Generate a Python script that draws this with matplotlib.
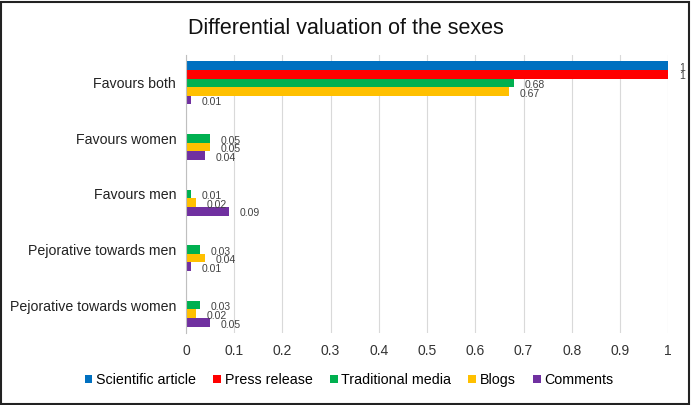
import matplotlib
matplotlib.use("Agg")
import matplotlib.pyplot as plt
from matplotlib.patches import Rectangle
import numpy as np

categories = ["Favours both", "Favours women", "Favours men",
              "Pejorative towards men", "Pejorative towards women"]
series_names = ["Scientific article", "Press release", "Traditional media", "Blogs", "Comments"]
scientific = [1, 0, 0, 0, 0]
press = [1, 0, 0, 0, 0]
traditional = [0.68, 0.05, 0.01, 0.03, 0.03]
blogs = [0.67, 0.05, 0.02, 0.04, 0.02]
comments = [0.01, 0.04, 0.09, 0.01, 0.05]
colors = ["#0070C0", "#FF0000", "#00B050", "#FFC000", "#7030A0"]
xticks = [0, 0.1, 0.2, 0.3, 0.4, 0.5, 0.6, 0.7, 0.8, 0.9, 1]
xticklabels = ["0", "0.1", "0.2", "0.3", "0.4", "0.5", "0.6", "0.7", "0.8", "0.9", "1"]

plt.rcParams['font.family'] = ['Liberation Sans', 'DejaVu Sans']

fig = plt.figure(figsize=(6.91, 4.05), dpi=100)
fig.patches.append(Rectangle((0.002, 0.003), 0.995, 0.993, transform=fig.transFigure,
                             fill=False, edgecolor="#222222", linewidth=1.5))
ax = fig.add_axes([0.269, 0.178, 0.698, 0.686])

all_series = [scientific, press, traditional, blogs, comments]
n = len(all_series)
bh = 0.155
y = np.arange(len(categories))
for k, (vals, name, c) in enumerate(zip(all_series, series_names, colors)):
    pos = y + (k - (n - 1) / 2) * bh
    ax.barh(pos, vals, height=bh, color=c, label=name)
    for p, v in zip(pos, vals):
        if v > 0:
            ax.text(v + 0.022, p + 0.04, f"{v:g}", va="center", ha="left",
                    fontsize=7.5, color="#404040")

ax.set_ylim(len(categories) - 0.5, -0.5)
ax.set_xlim(0, 1)
ax.set_yticks(y)
ax.set_yticklabels(categories, fontsize=10.2, color="#222222")
ax.set_xticks(xticks)
ax.set_xticklabels(xticklabels, fontsize=10, color="#333333")
ax.tick_params(axis="both", length=0, pad=8)
ax.tick_params(axis="y", pad=7)
ax.grid(axis="x", color="#D9D9D9", linewidth=0.8)
ax.set_axisbelow(True)
for s in ["top", "right", "bottom"]:
    ax.spines[s].set_visible(False)
ax.spines["left"].set_color("#BFBFBF")

fig.text(0.5, 0.93, "Differential valuation of the sexes", ha="center", va="center",
         fontsize=15.5, color="#111111")
fig.legend(loc="center", bbox_to_anchor=(0.505, 0.062), ncol=5, frameon=False,
           fontsize=10.3, handlelength=0.55, handleheight=0.55, handletextpad=0.25,
           columnspacing=1.2)

fig.savefig("out.png", dpi=100)
